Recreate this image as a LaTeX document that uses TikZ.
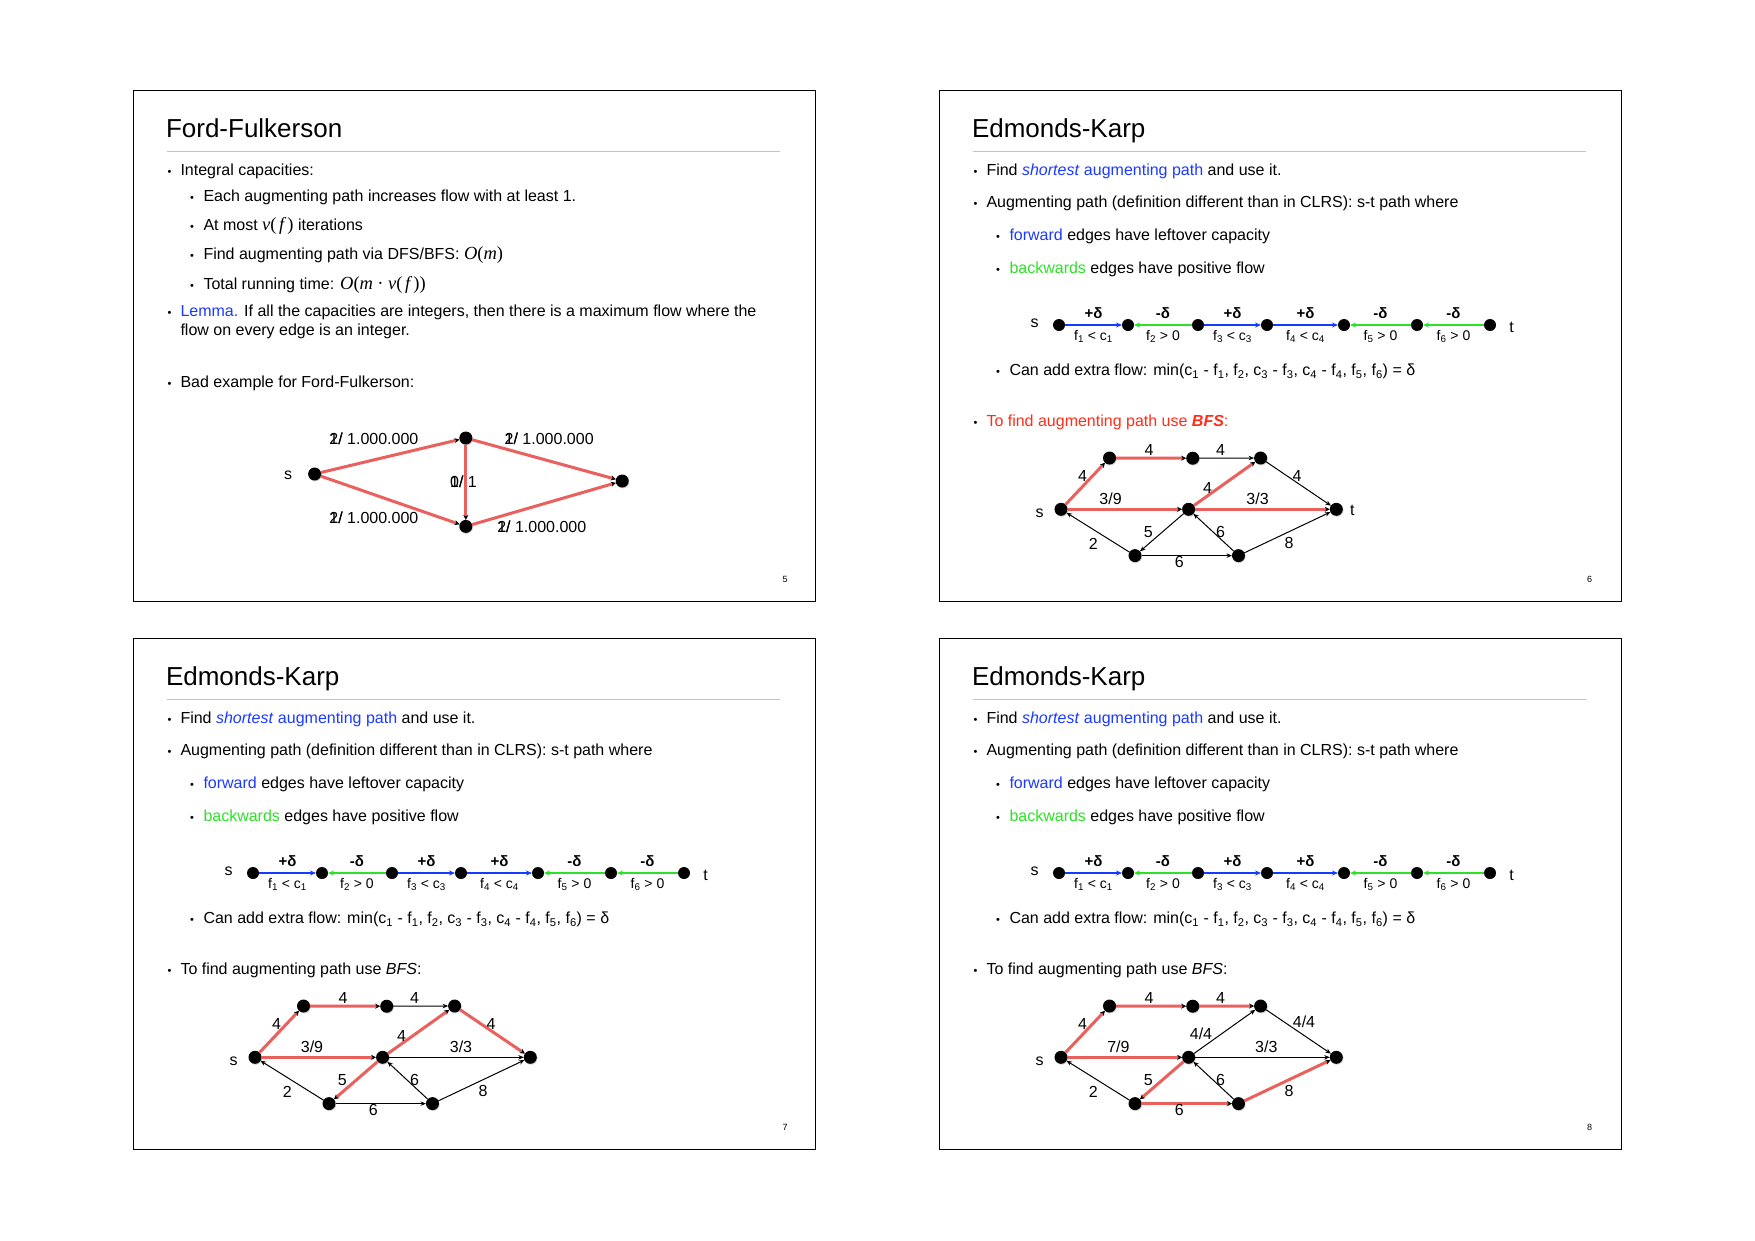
\documentclass[tikz,border=0pt]{standalone}
\usepackage{fontspec}
\setmainfont{Liberation Sans}
\newfontfamily\tms{Liberation Serif}
\usetikzlibrary{arrows.meta,shadows}

\definecolor{edgered}{RGB}{234,96,92}
\definecolor{linkblue}{RGB}{28,58,255}
\definecolor{fwdblue}{RGB}{20,60,255}
\definecolor{bwdgreen}{RGB}{45,225,40}
\definecolor{alertred}{RGB}{255,45,25}
\definecolor{rulegrey}{RGB}{195,195,195}

% italic / upright serif pieces for formulas
\newcommand\ffit[1]{{\tms\itshape\fontsize{18.5}{19}\selectfont #1}}
\newcommand\ffrm[1]{{\tms\fontsize{18.5}{19}\selectfont #1}}
% two labels printed on top of each other
\newcommand\ovl[2]{\makebox[0pt][l]{#1}#2}

\tikzset{
  every node/.style={inner sep=0pt, outer sep=0pt},
  slideframe/.style={draw=black, line width=0.9pt},
  titlerule/.style={draw=rulegrey, line width=1.1pt},
  ttl/.style={anchor=base west, font=\fontsize{26}{30}\selectfont},
  txt/.style={anchor=base west, font=\fontsize{16}{19}\selectfont},
  bul/.style={anchor=base, font=\fontsize{11}{13}\selectfont},
  pagenum/.style={font=\fontsize{9}{10}\selectfont},
  dot/.style={circle, fill=black, minimum size=13pt,
    general shadow={fill=black!40, opacity=0.45, shadow xshift=0.7pt, shadow yshift=-0.9pt}},
  chaindot/.style={circle, fill=black, minimum size=12pt},
  lbl/.style={font=\fontsize{16}{18}\selectfont, text height=11.4pt, text depth=0pt},
  fflbl/.style={anchor=west, font=\fontsize{16}{19}\selectfont, text height=11.5pt, text depth=0pt},
  plainlbl/.style={anchor=base, font=\fontsize{16}{19}\selectfont},
  redarc/.style={draw=edgered, line width=3pt, -{Stealth[length=5pt,width=5pt,color=black]}},
  blackarc/.style={draw=black, line width=1pt, -{Stealth[length=5.5pt,width=4.5pt]}},
  fwd/.style={draw=fwdblue, line width=1.3pt, -{Stealth[length=6pt,width=5pt]}},
  bwd/.style={draw=bwdgreen, line width=1.3pt, {Stealth[length=6pt,width=5pt]}-},
  deltalbl/.style={font=\bfseries\fontsize{15}{18}\selectfont},
  flbl/.style={font=\fontsize{14}{17}\selectfont, text height=10pt, text depth=2pt},
}

% common upper part of the Edmonds-Karp slides; #1 prefixes the node names
\newcommand\ekheader[1]{%
  \draw[slideframe] (0,0) rectangle (682,511);
  \node[ttl] (#1title) at (33,47.7) {Edmonds-Karp};
  \draw[titlerule] (34,61.7) -- (647,61.7);
  \node[bul] (#1b1) at (36.5,85) {•};
  \node[txt] (#1t1) at (47.5,85) {Find \textcolor{linkblue}{\textit{shortest} augmenting path} and use it.};
  \node[bul] (#1b2) at (36.5,117.5) {•};
  \node[txt] (#1t2) at (47.5,117.5) {Augmenting path (definition different than in CLRS): s-t path where};
  \node[bul] (#1b3) at (59,150.3) {•};
  \node[txt] (#1t3) at (70.5,150.3) {\textcolor{linkblue}{forward} edges have leftover capacity};
  \node[bul] (#1b4) at (59,183.3) {•};
  \node[txt] (#1t4) at (70.5,183.3) {\textcolor{bwdgreen}{backwards} edges have positive flow};
  % path with forward and backward edges
  \foreach \i/\x in {1/120,2/189,3/259,4/328,5/405,6/478,7/551}
    \node[chaindot] (#1c\i) at (\x,235) {};
  \node[plainlbl] (#1cs) at (95.5,237.3) {s};
  \node[plainlbl] (#1ct) at (572.5,242.3) {t};
  \draw[fwd] (#1c1) -- (#1c2);
  \draw[bwd] (#1c2) -- (#1c3);
  \draw[fwd] (#1c3) -- (#1c4);
  \draw[fwd] (#1c4) -- (#1c5);
  \draw[bwd] (#1c5) -- (#1c6);
  \draw[bwd] (#1c6) -- (#1c7);
  \node[deltalbl] (#1d1) at (154.5,223.3) {+δ};
  \node[deltalbl] (#1d2) at (224,223.3) {-δ};
  \node[deltalbl] (#1d3) at (293.5,223.3) {+δ};
  \node[deltalbl] (#1d4) at (366.5,223.3) {+δ};
  \node[deltalbl] (#1d5) at (441.5,223.3) {-δ};
  \node[deltalbl] (#1d6) at (514.5,223.3) {-δ};
  \node[flbl] (#1f1) at (154.5,246.7) {f\textsubscript{1} < c\textsubscript{1}};
  \node[flbl] (#1f2) at (224,246.7) {f\textsubscript{2} > 0};
  \node[flbl] (#1f3) at (293.5,246.7) {f\textsubscript{3} < c\textsubscript{3}};
  \node[flbl] (#1f4) at (366.5,246.7) {f\textsubscript{4} < c\textsubscript{4}};
  \node[flbl] (#1f5) at (441.5,246.7) {f\textsubscript{5} > 0};
  \node[flbl] (#1f6) at (514.5,246.7) {f\textsubscript{6} > 0};
  \node[bul] (#1b5) at (59,285.5) {•};
  \node[txt] (#1t5) at (70.5,285.5) {Can add extra flow: min(c\textsubscript{1} - f\textsubscript{1}, f\textsubscript{2}, c\textsubscript{3} - f\textsubscript{3}, c\textsubscript{4} - f\textsubscript{4}, f\textsubscript{5}, f\textsubscript{6}) = δ};
  \node[bul] (#1b6) at (36.5,336.8) {•};
  % vertices of the example network
  \node[dot] (#1s) at (122,419.3) {};
  \node[dot] (#1a) at (170.5,368) {};
  \node[dot] (#1b) at (253.7,368.2) {};
  \node[dot] (#1c) at (321.6,368) {};
  \node[dot] (#1m) at (249.6,419.3) {};
  \node[dot] (#1t) at (397.3,419.3) {};
  \node[dot] (#1d) at (196,465.6) {};
  \node[dot] (#1e) at (299.5,465.6) {};
  \node[plainlbl] (#1sl) at (100.7,427.3) {s};
}

\begin{document}
\begin{tikzpicture}[x=1pt,y=-1pt]
\fill[white] (0,0) rectangle (1755,1240);
\useasboundingbox (0,0) rectangle (1755,1240);

% ---------------- slide 5: Ford-Fulkerson ----------------
\begin{scope}[shift={(133,90)}]
  \draw[slideframe] (0,0) rectangle (682,511);
  \node[ttl] (Atitle) at (33,47.7) {Ford-Fulkerson};
  \draw[titlerule] (34,61.7) -- (647,61.7);
  \node[bul] (Ab1) at (36.5,85) {•};
  \node[txt] (At1) at (47.5,85) {Integral capacities:};
  \node[bul] (Ab2) at (59,111) {•};
  \node[txt] (At2) at (70.5,111) {Each augmenting path increases flow with at least 1.};
  \node[bul] (Ab3) at (59,140) {•};
  \node[txt] (At3) at (70.5,140) {At most \ffit{v}\ffrm{(}\,\ffit{f\,}\ffrm{)} iterations};
  \node[bul] (Ab4) at (59,169.3) {•};
  \node[txt] (At4) at (70.5,169.3) {Find augmenting path via DFS/BFS: \ffit{O}\ffrm{(}\ffit{m}\ffrm{)}};
  \node[bul] (Ab5) at (59,199) {•};
  \node[txt] (At5) at (70.5,199) {Total running time: \ffit{O}\ffrm{(}\ffit{m}\ \ffrm{·}\ \ffit{v}\ffrm{(}\,\ffit{f\,}\ffrm{))}};
  \node[bul] (Ab6) at (36.5,226) {•};
  \node[txt] (At6) at (47.5,226) {\textcolor{linkblue}{Lemma.} If all the capacities are integers, then there is a maximum flow where the};
  \node[txt] (At7) at (47.5,245) {flow on every edge is an integer.};
  \node[bul] (Ab7) at (36.5,297.7) {•};
  \node[txt] (At8) at (47.5,297.7) {Bad example for Ford-Fulkerson:};
  % the bad network
  \node[dot] (As) at (181.6,384) {};
  \node[dot] (Au) at (332.8,348) {};
  \node[dot] (Av) at (332.8,436.4) {};
  \node[dot] (At) at (489.2,391) {};
  \draw[redarc] (As) -- (Au);
  \draw[redarc] (As) -- (Av);
  \draw[redarc] (Au) -- (At);
  \draw[redarc] (Av) -- (At);
  \draw[redarc] (Au) -- (Av);
  \node[plainlbl] (Asl) at (155.2,389.3) {s};
  \node[fflbl] (Al1) at (196.4,348.5) {\ovl{1/}{2/}\ 1.000.000};
  \node[fflbl] (Al2) at (371.7,348.5) {\ovl{1/}{2/}\ 1.000.000};
  \node[fflbl] (Al3) at (317.2,391.7) {\ovl{1/}{0/}\ 1};
  \node[fflbl] (Al4) at (196.4,427.3) {\ovl{1/}{2/}\ 1.000.000};
  \node[fflbl] (Al5) at (364.3,436.6) {\ovl{1/}{2/}\ 1.000.000};
  \node[pagenum] (Apg) at (652,489.2) {5};
\end{scope}

% ---------------- slide 6 ----------------
\begin{scope}[shift={(939,90)}]
  \ekheader{B}
  \node[txt] (Bt6) at (47.5,336.8) {\textcolor{alertred}{To find augmenting path use \textbf{\textit{BFS}}:}};
  \draw[blackarc] (Bb) -- (Bc);
  \draw[blackarc] (Bc) -- (Bt);
  \draw[blackarc] (Bd) -- (Bs);
  \draw[blackarc] (Bm) -- (Bd);
  \draw[blackarc] (Bd) -- (Be);
  \draw[blackarc] (Be) -- (Bm);
  \draw[blackarc] (Be) -- (Bt);
  \draw[redarc] (Bs) -- (Ba);
  \draw[redarc] (Ba) -- (Bb);
  \draw[redarc] (Bs) -- (Bm);
  \draw[redarc] (Bm) -- (Bc);
  \draw[redarc] (Bm) -- (Bt);
  \node[lbl] (Bl1) at (143.5,385.6) {4};
  \node[lbl] (Bl2) at (210,360) {4};
  \node[lbl] (Bl3) at (281.6,360) {4};
  \node[lbl] (Bl4) at (358,385.7) {4};
  \node[lbl] (Bl5) at (171.6,408.3) {3/9};
  \node[lbl] (Bl6) at (268.6,397.3) {4};
  \node[lbl] (Bl7) at (318.6,408.3) {3/3};
  \node[lbl] (Bl8) at (154.2,453.3) {2};
  \node[lbl] (Bl9) at (209.4,441.7) {5};
  \node[lbl] (Bl10) at (240.3,471.7) {6};
  \node[lbl] (Bl11) at (281.6,441.7) {6};
  \node[lbl] (Bl12) at (350,452.3) {8};
  \node[plainlbl] (Btl) at (413.3,425.7) {t};
  \node[pagenum] (Bpg) at (650.5,489) {6};
\end{scope}

% ---------------- slide 7 ----------------
\begin{scope}[shift={(133,638)}]
  \ekheader{C}
  \node[txt] (Ct6) at (47.5,336.8) {To find augmenting path use \textit{BFS}:};
  \draw[blackarc] (Cb) -- (Cc);
  \draw[blackarc] (Cm) -- (Ct);
  \draw[blackarc] (Cd) -- (Cs);
  \draw[blackarc] (Cd) -- (Ce);
  \draw[blackarc] (Ce) -- (Cm);
  \draw[blackarc] (Ce) -- (Ct);
  \draw[redarc] (Cs) -- (Ca);
  \draw[redarc] (Ca) -- (Cb);
  \draw[redarc] (Cc) -- (Ct);
  \draw[redarc] (Cs) -- (Cm);
  \draw[redarc] (Cm) -- (Cc);
  \draw[redarc] (Cm) -- (Cd);
  \node[lbl] (Cl1) at (143.5,385.6) {4};
  \node[lbl] (Cl2) at (210,360) {4};
  \node[lbl] (Cl3) at (281.6,360) {4};
  \node[lbl] (Cl4) at (358,385.7) {4};
  \node[lbl] (Cl5) at (179,408.5) {3/9};
  \node[lbl] (Cl6) at (268.6,397.3) {4};
  \node[lbl] (Cl7) at (328,408.3) {3/3};
  \node[lbl] (Cl8) at (154.2,453.3) {2};
  \node[lbl] (Cl9) at (209.4,441.7) {5};
  \node[lbl] (Cl10) at (240.3,471.7) {6};
  \node[lbl] (Cl11) at (281.6,441.7) {6};
  \node[lbl] (Cl12) at (350,452.3) {8};
  \node[pagenum] (Cpg) at (652,489.3) {7};
\end{scope}

% ---------------- slide 8 ----------------
\begin{scope}[shift={(939,638)}]
  \ekheader{D}
  \node[txt] (Dt6) at (47.5,336.8) {To find augmenting path use \textit{BFS}:};
  \draw[blackarc] (Dc) -- (Dt);
  \draw[blackarc] (Dm) -- (Dc);
  \draw[blackarc] (Dm) -- (Dt);
  \draw[blackarc] (Dd) -- (Ds);
  \draw[blackarc] (De) -- (Dm);
  \draw[redarc] (Ds) -- (Da);
  \draw[redarc] (Da) -- (Db);
  \draw[redarc] (Db) -- (Dc);
  \draw[redarc] (Ds) -- (Dm);
  \draw[redarc] (Dm) -- (Dd);
  \draw[redarc] (Dd) -- (De);
  \draw[redarc] (De) -- (Dt);
  \node[lbl] (Dl1) at (143.5,385.6) {4};
  \node[lbl] (Dl2) at (210,360) {4};
  \node[lbl] (Dl3) at (281.6,360) {4};
  \node[lbl] (Dl4) at (365,383.7) {4/4};
  \node[lbl] (Dl5) at (179.4,408.3) {7/9};
  \node[lbl] (Dl6) at (262,395.3) {4/4};
  \node[lbl] (Dl7) at (327.3,409) {3/3};
  \node[lbl] (Dl8) at (154.2,453.3) {2};
  \node[lbl] (Dl9) at (209.4,441.7) {5};
  \node[lbl] (Dl10) at (240.3,471.7) {6};
  \node[lbl] (Dl11) at (281.6,441.7) {6};
  \node[lbl] (Dl12) at (350,452.3) {8};
  \node[pagenum] (Dpg) at (650.5,489.3) {8};
\end{scope}
\end{tikzpicture}
\end{document}
